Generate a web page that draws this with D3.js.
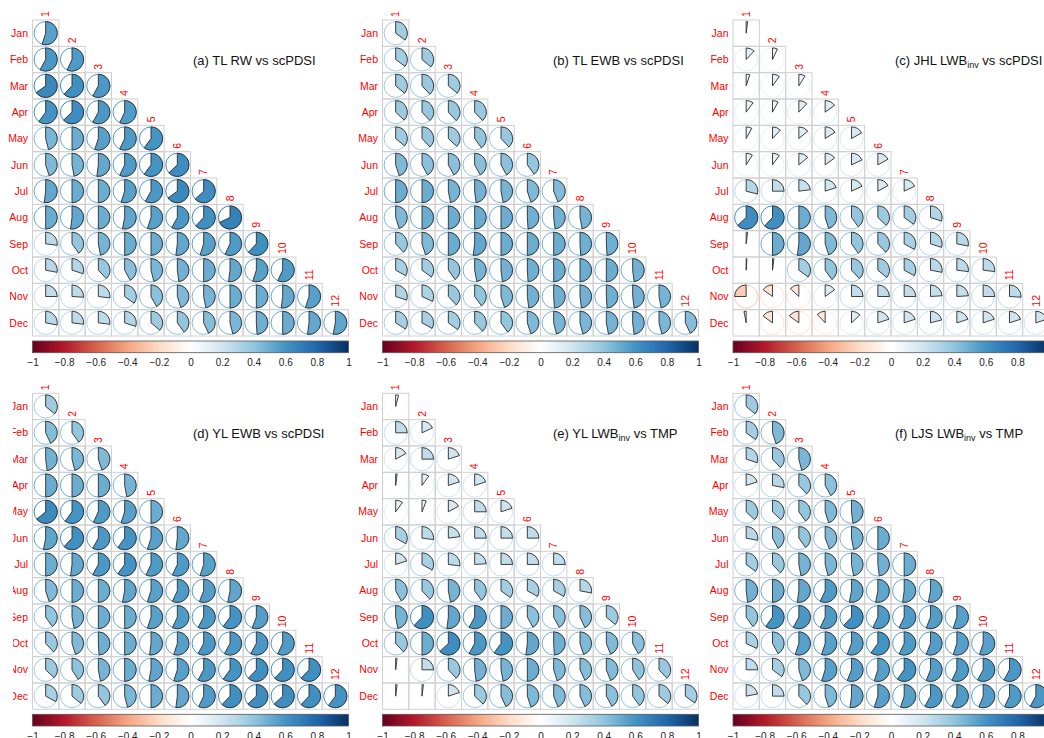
<!DOCTYPE html>
<html>
<head>
<meta charset="utf-8">
<script src="https://cdn.jsdelivr.net/npm/d3@7"></script>
<style>
  body { margin: 0; background: #fff; }
  svg { display: block; font-family: "Liberation Sans", Arial, sans-serif; }
</style>
</head>
<body>
<svg id="chart" width="1044" height="738"></svg>
<script>
// Month labels (rows) and month numbers (columns)
const months = ["Jan", "Feb", "Mar", "Apr", "May", "Jun", "Jul", "Aug", "Sep", "Oct", "Nov", "Dec"];
const colLabels = ["1", "2", "3", "4", "5", "6", "7", "8", "9", "10", "11", "12"];
const legendTicks = [-1, -0.8, -0.6, -0.4, -0.2, 0, 0.2, 0.4, 0.6, 0.8, 1];

// Correlations, lower triangle: row = end month, column = start month
const tlRwPdsi = [
  [0.55],
  [0.58, 0.57],
  [0.65, 0.62, 0.58],
  [0.60, 0.63, 0.58, 0.57],
  [0.46, 0.50, 0.55, 0.57, 0.60],
  [0.45, 0.47, 0.52, 0.57, 0.60, 0.63],
  [0.52, 0.50, 0.50, 0.55, 0.58, 0.65, 0.63],
  [0.50, 0.52, 0.50, 0.53, 0.55, 0.58, 0.62, 0.68],
  [0.27, 0.40, 0.47, 0.50, 0.50, 0.52, 0.55, 0.57, 0.62],
  [0.28, 0.30, 0.38, 0.42, 0.46, 0.48, 0.50, 0.52, 0.55, 0.57],
  [0.25, 0.26, 0.27, 0.35, 0.42, 0.45, 0.47, 0.50, 0.50, 0.52, 0.55],
  [0.28, 0.27, 0.27, 0.30, 0.36, 0.40, 0.43, 0.46, 0.49, 0.50, 0.52, 0.53]
];
const tlEwbPdsi = [
  [0.35],
  [0.35, 0.36],
  [0.36, 0.38, 0.36],
  [0.37, 0.38, 0.38, 0.38],
  [0.36, 0.38, 0.37, 0.40, 0.38],
  [0.45, 0.42, 0.42, 0.42, 0.42, 0.40],
  [0.50, 0.50, 0.47, 0.48, 0.47, 0.45, 0.44],
  [0.45, 0.50, 0.50, 0.50, 0.50, 0.49, 0.48, 0.47],
  [0.38, 0.45, 0.50, 0.52, 0.50, 0.50, 0.50, 0.49, 0.49],
  [0.33, 0.35, 0.40, 0.47, 0.48, 0.49, 0.50, 0.50, 0.50, 0.48],
  [0.30, 0.32, 0.38, 0.40, 0.45, 0.48, 0.49, 0.48, 0.49, 0.48, 0.47],
  [0.34, 0.33, 0.35, 0.38, 0.40, 0.45, 0.46, 0.46, 0.47, 0.48, 0.46, 0.43]
];
const jhlLwbPdsi = [
  [0.02],
  [0.12, 0.07],
  [0.05, 0.10, 0.09],
  [0.10, 0.08, 0.12, 0.15],
  [0.08, 0.12, 0.14, 0.16, 0.17],
  [0.09, 0.10, 0.14, 0.15, 0.18, 0.17],
  [0.29, 0.25, 0.23, 0.20, 0.18, 0.17, 0.18],
  [0.63, 0.62, 0.50, 0.45, 0.40, 0.37, 0.35, 0.30],
  [0.02, 0.50, 0.52, 0.45, 0.40, 0.38, 0.33, 0.30, 0.28],
  [0.01, 0.02, 0.35, 0.40, 0.38, 0.36, 0.33, 0.28, 0.27, 0.27],
  [-0.25, -0.15, -0.13, 0.15, 0.25, 0.25, 0.25, 0.24, 0.24, 0.25, 0.26],
  [-0.03, -0.15, -0.15, -0.12, 0.13, 0.20, 0.20, 0.21, 0.20, 0.20, 0.20, 0.20]
];
const ylEwbPdsi = [
  [0.36],
  [0.43, 0.40],
  [0.48, 0.46, 0.45],
  [0.50, 0.50, 0.50, 0.47],
  [0.64, 0.60, 0.57, 0.55, 0.50],
  [0.53, 0.62, 0.58, 0.60, 0.55, 0.52],
  [0.50, 0.52, 0.58, 0.60, 0.57, 0.57, 0.55],
  [0.45, 0.50, 0.50, 0.53, 0.55, 0.57, 0.56, 0.53],
  [0.40, 0.47, 0.50, 0.50, 0.55, 0.57, 0.58, 0.60, 0.56],
  [0.38, 0.45, 0.49, 0.50, 0.52, 0.55, 0.58, 0.58, 0.58, 0.57],
  [0.37, 0.41, 0.47, 0.50, 0.53, 0.55, 0.58, 0.60, 0.62, 0.62, 0.62],
  [0.33, 0.36, 0.40, 0.46, 0.50, 0.52, 0.57, 0.62, 0.63, 0.63, 0.62, 0.60]
];
const ylLwbTmp = [
  [0.04],
  [0.25, 0.18],
  [0.17, 0.25, 0.20],
  [0.02, 0.10, 0.20, 0.20],
  [0.10, 0.06, 0.17, 0.25, 0.20],
  [0.33, 0.27, 0.23, 0.25, 0.25, 0.25],
  [0.20, 0.33, 0.27, 0.24, 0.25, 0.25, 0.25],
  [0.42, 0.38, 0.47, 0.40, 0.35, 0.33, 0.33, 0.28],
  [0.47, 0.62, 0.52, 0.58, 0.50, 0.42, 0.42, 0.43, 0.36],
  [0.38, 0.50, 0.63, 0.58, 0.60, 0.52, 0.49, 0.45, 0.44, 0.42],
  [0.02, 0.25, 0.38, 0.48, 0.47, 0.50, 0.45, 0.43, 0.44, 0.41, 0.38],
  [0.02, 0.02, 0.20, 0.37, 0.43, 0.45, 0.44, 0.43, 0.42, 0.40, 0.36, 0.35]
];
const ljsLwbTmp = [
  [0.36],
  [0.35, 0.45],
  [0.30, 0.38, 0.46],
  [0.20, 0.28, 0.38, 0.42],
  [0.37, 0.37, 0.40, 0.45, 0.48],
  [0.28, 0.42, 0.40, 0.44, 0.47, 0.50],
  [0.35, 0.38, 0.47, 0.46, 0.47, 0.48, 0.50],
  [0.48, 0.50, 0.52, 0.57, 0.53, 0.53, 0.52, 0.53],
  [0.40, 0.60, 0.58, 0.57, 0.62, 0.57, 0.57, 0.56, 0.55],
  [0.32, 0.42, 0.55, 0.55, 0.56, 0.60, 0.57, 0.56, 0.55, 0.55],
  [0.25, 0.35, 0.45, 0.55, 0.56, 0.55, 0.60, 0.56, 0.57, 0.58, 0.58],
  [0.22, 0.25, 0.38, 0.45, 0.52, 0.55, 0.55, 0.58, 0.57, 0.56, 0.57, 0.58]
];

// Panel titles; "sub" parts are drawn as subscripts
const titleA = [{ t: "(a) TL RW vs scPDSI" }];
const titleB = [{ t: "(b) TL EWB vs scPDSI" }];
const titleC = [{ t: "(c) JHL LWB" }, { t: "inv", sub: true }, { t: " vs scPDSI" }];
const titleD = [{ t: "(d) YL EWB vs scPDSI" }];
const titleE = [{ t: "(e) YL LWB" }, { t: "inv", sub: true }, { t: " vs TMP" }];
const titleF = [{ t: "(f) LJS LWB" }, { t: "inv", sub: true }, { t: " vs TMP" }];

// Diverging red-blue palette, -1 .. 1
const paletteColors = ["#67001F", "#B2182B", "#D6604D", "#F4A582", "#FDDBC7", "#FFFFFF",
                       "#D1E5F0", "#92C5DE", "#4393C3", "#2166AC", "#053061"];
const color = d3.scaleLinear()
  .domain(d3.range(11).map(i => -1 + i * 0.2))
  .range(paletteColors)
  .interpolate(d3.interpolateRgb)
  .clamp(true);

// Panel layout: grid origin, title offset, optional left clip
const GRID = 316;
const panels = [
  { data: tlRwPdsi,   title: titleA, gx: 32.5,  gy: 20,    tx: 160.5, clipX: null },
  { data: tlEwbPdsi,  title: titleB, gx: 382.5, gy: 20,    tx: 170.5, clipX: null },
  { data: jhlLwbPdsi, title: titleC, gx: 733,   gy: 20,    tx: 162,   clipX: null },
  { data: ylEwbPdsi,  title: titleD, gx: 32.5,  gy: 393.3, tx: 160.5, clipX: 13 },
  { data: ylLwbTmp,   title: titleE, gx: 382.5, gy: 393.3, tx: 170.5, clipX: null },
  { data: ljsLwbTmp,  title: titleF, gx: 733,   gy: 393.3, tx: 162,   clipX: null }
];

const svg = d3.select("#chart");
const defs = svg.append("defs");

// Colour bar gradient
const grad = defs.append("linearGradient").attr("id", "cbar")
  .attr("x1", "0%").attr("x2", "100%").attr("y1", "0%").attr("y2", "0%");
d3.range(0, 101).forEach(i => {
  const v = -1 + 2 * i / 100;
  grad.append("stop").attr("offset", i + "%").attr("stop-color", color(v));
});

const band = d3.scaleBand().domain(d3.range(12)).range([0, GRID]).padding(0);
const bw = band.bandwidth();
const R = bw * 0.44;
const legendX = d3.scaleLinear().domain([-1, 1]).range([0, GRID]);
const fmt = d3.format("");

panels.forEach((p, pi) => {
  const g = svg.append("g").attr("transform", `translate(${p.gx},${p.gy})`);

  // Lower-triangle cells
  const cells = [];
  p.data.forEach((row, i) => row.forEach((v, j) => cells.push({ i, j, v })));

  g.append("g").selectAll("rect").data(cells).join("rect")
    .attr("x", d => band(d.j)).attr("y", d => band(d.i))
    .attr("width", bw).attr("height", bw)
    .attr("fill", "none").attr("stroke", "#d0d0d0").attr("stroke-width", 1);

  const cg = g.append("g").selectAll("g").data(cells).join("g")
    .attr("transform", d => `translate(${band(d.j) + bw / 2},${band(d.i) + bw / 2})`);

  cg.append("circle").attr("r", R)
    .attr("fill", "none").attr("stroke", d => color(d.v)).attr("stroke-width", 1);

  cg.append("path")
    .attr("d", d => d3.arc().innerRadius(0).outerRadius(R)
      .startAngle(0).endAngle(d.v * 2 * Math.PI)())
    .attr("fill", d => color(d.v))
    .attr("stroke", "#2b2b2b").attr("stroke-width", 0.9).attr("stroke-linejoin", "round");

  // Row labels
  let rl = g.append("g");
  if (p.clipX !== null) {
    defs.append("clipPath").attr("id", "clip" + pi)
      .append("rect").attr("x", p.clipX - p.gx).attr("y", -50).attr("width", 2000).attr("height", 2000);
    rl.attr("clip-path", `url(#clip${pi})`);
  }
  rl.selectAll("text").data(months).join("text")
    .attr("x", -4.5).attr("y", (d, i) => band(i) + bw / 2).attr("dy", "0.35em")
    .attr("text-anchor", "end").attr("font-size", 10.5).attr("fill", "#FF0000")
    .text(d => d);

  // Column labels above the diagonal
  g.append("g").selectAll("text").data(colLabels).join("text")
    .attr("transform", (d, i) => `translate(${band(i) + bw / 2},${band(i) - 3}) rotate(-90)`)
    .attr("dy", "0.35em").attr("text-anchor", "start")
    .attr("font-size", 10.5).attr("fill", "#FF0000")
    .text(d => d);

  // Title
  const t = g.append("text").attr("x", p.tx).attr("y", 44.5)
    .attr("font-size", 13).attr("fill", "#111");
  p.title.forEach(part => {
    if (part.sub) {
      t.append("tspan").attr("font-size", 9).attr("dy", 3).text(part.t);
    } else {
      const s = t.append("tspan").text(part.t);
      if (t.selectAll("tspan").size() > 1) s.attr("dy", -3);
    }
  });

  // Colour legend
  const lg = g.append("g").attr("transform", `translate(0,${GRID + 5})`);
  lg.append("rect").attr("width", GRID).attr("height", 11.7)
    .attr("fill", "url(#cbar)").attr("stroke", "#555").attr("stroke-width", 0.8);
  const ax = lg.append("g").attr("transform", "translate(0,11.7)")
    .call(d3.axisBottom(legendX).tickValues(legendTicks).tickSize(0).tickPadding(6.5).tickFormat(fmt));
  ax.select(".domain").remove();
  ax.selectAll("text").attr("font-size", 10).attr("fill", "#222")
    .attr("font-family", "'Liberation Sans', Arial, sans-serif");
});
</script>
</body>
</html>
